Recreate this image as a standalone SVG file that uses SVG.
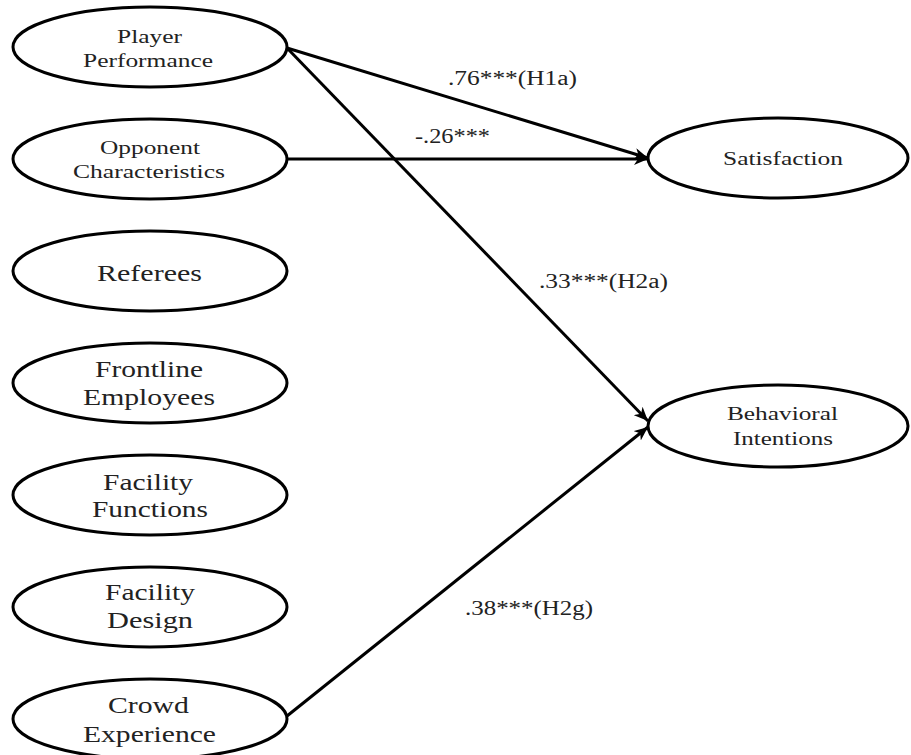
<svg xmlns="http://www.w3.org/2000/svg" width="911" height="755" viewBox="0 0 911 755">
<style>
.n{fill:#fff;stroke:#000;stroke-width:3}
.t{font-family:"Liberation Serif","Times New Roman",serif;fill:#222}
.s{font-size:19px}
.l{font-size:23px}
.c{stroke:#000;stroke-width:3;fill:none}
.lab{font-family:"Liberation Serif","Times New Roman",serif;font-size:20px;fill:#222}
</style>
<defs>
<marker id="ah" markerUnits="userSpaceOnUse" markerWidth="16" markerHeight="12" refX="14" refY="6" orient="auto">
<path d="M0,0 L14,6 L0,12 L4,6 Z" fill="#000"/>
</marker>
</defs>
<rect width="911" height="755" fill="#fff"/>
<g id="connectors">
<line class="c" x1="287" y1="48" x2="648" y2="158" marker-end="url(#ah)"/>
<line class="c" x1="287" y1="159" x2="648" y2="159" marker-end="url(#ah)"/>
<line class="c" x1="287" y1="48" x2="648" y2="421" marker-end="url(#ah)"/>
<line class="c" x1="287" y1="716" x2="648" y2="427" marker-end="url(#ah)"/>
<text class="lab" x="448" y="85" textLength="129" lengthAdjust="spacingAndGlyphs">.76***(H1a)</text>
<text class="lab" x="415" y="143" textLength="75" lengthAdjust="spacingAndGlyphs">-.26***</text>
<text class="lab" x="539" y="288" textLength="129" lengthAdjust="spacingAndGlyphs">.33***(H2a)</text>
<text class="lab" x="465" y="615" textLength="128" lengthAdjust="spacingAndGlyphs">.38***(H2g)</text>
</g>
<g id="player-performance">
<ellipse class="n" cx="150" cy="47" rx="137" ry="40"/>
<text class="t s" x="117" y="43" textLength="65" lengthAdjust="spacingAndGlyphs">Player</text>
<text class="t s" x="83" y="67" textLength="130" lengthAdjust="spacingAndGlyphs">Performance</text>
</g>
<g id="opponent-characteristics">
<ellipse class="n" cx="150" cy="159" rx="137" ry="40"/>
<text class="t s" x="100" y="154" textLength="100" lengthAdjust="spacingAndGlyphs">Opponent</text>
<text class="t s" x="73" y="178" textLength="152" lengthAdjust="spacingAndGlyphs">Characteristics</text>
</g>
<g id="referees">
<ellipse class="n" cx="150" cy="271" rx="137" ry="40"/>
<text class="t l" x="97" y="281" textLength="105" lengthAdjust="spacingAndGlyphs">Referees</text>
</g>
<g id="frontline-employees">
<ellipse class="n" cx="150" cy="383" rx="137" ry="40"/>
<text class="t l" x="95" y="377" textLength="108" lengthAdjust="spacingAndGlyphs">Frontline</text>
<text class="t l" x="83" y="405" textLength="132" lengthAdjust="spacingAndGlyphs">Employees</text>
</g>
<g id="facility-functions">
<ellipse class="n" cx="150" cy="495" rx="137" ry="40"/>
<text class="t l" x="103" y="490" textLength="90" lengthAdjust="spacingAndGlyphs">Facility</text>
<text class="t l" x="92" y="517" textLength="116" lengthAdjust="spacingAndGlyphs">Functions</text>
</g>
<g id="facility-design">
<ellipse class="n" cx="150" cy="607" rx="137" ry="40"/>
<text class="t l" x="105" y="600" textLength="90" lengthAdjust="spacingAndGlyphs">Facility</text>
<text class="t l" x="107" y="628" textLength="86" lengthAdjust="spacingAndGlyphs">Design</text>
</g>
<g id="crowd-experience">
<ellipse class="n" cx="150" cy="719" rx="137" ry="40"/>
<text class="t l" x="108" y="713" textLength="81" lengthAdjust="spacingAndGlyphs">Crowd</text>
<text class="t l" x="83" y="742" textLength="133" lengthAdjust="spacingAndGlyphs">Experience</text>
</g>
<g id="satisfaction">
<ellipse class="n" cx="778" cy="158" rx="130" ry="40"/>
<text class="t s" x="723" y="165" textLength="120" lengthAdjust="spacingAndGlyphs">Satisfaction</text>
</g>
<g id="behavioral-intentions">
<ellipse class="n" cx="778" cy="426" rx="130" ry="41"/>
<text class="t s" x="727" y="420" textLength="111" lengthAdjust="spacingAndGlyphs">Behavioral</text>
<text class="t s" x="733" y="445" textLength="100" lengthAdjust="spacingAndGlyphs">Intentions</text>
</g>
</svg>
